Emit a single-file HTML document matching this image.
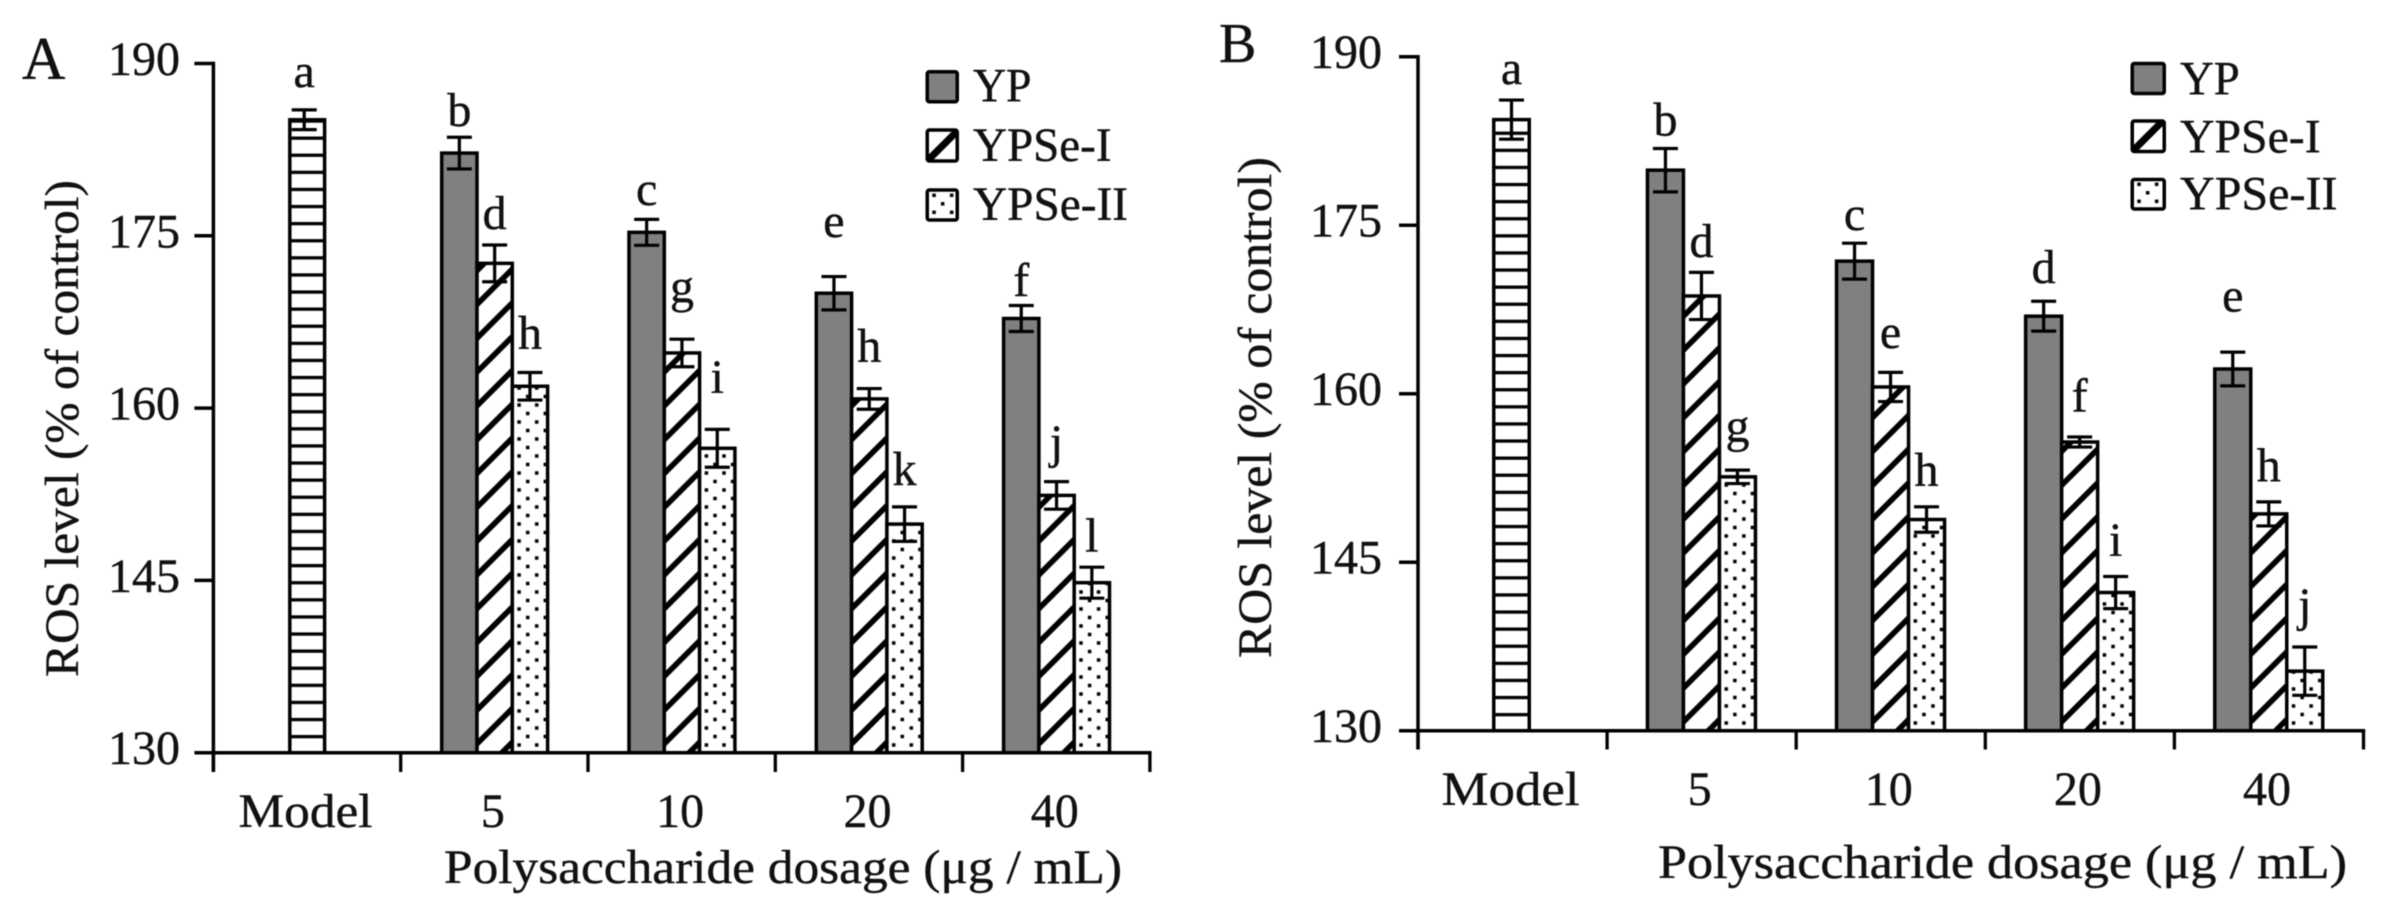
<!DOCTYPE html>
<html lang="en">
<head>
<meta charset="utf-8">
<title>ROS level by polysaccharide dosage</title>
<style>
  html, body { margin: 0; padding: 0; background: #fff; }
  svg { display: block; filter: blur(0.5px); }
  text { font-family: "Liberation Serif", serif; fill: #111; stroke: #111; stroke-width: 0.4px; font-size: 48px; }
</style>
</head>
<body>
<svg id="chart" xmlns="http://www.w3.org/2000/svg" width="2384" height="909" viewBox="0 0 2384 909">
  <defs>
    <pattern id="hatch-horizontal" patternUnits="userSpaceOnUse" width="17.1" height="17.1" patternTransform="translate(0,-3)">
      <rect x="0" y="0" width="17.1" height="17.1" fill="#fff"/>
      <rect x="0" y="2.4" width="17.1" height="3.3" fill="#000"/>
    </pattern>
    <pattern id="hatch-diagonal" patternUnits="userSpaceOnUse" width="33.8" height="33.8" patternTransform="translate(0,-8.9)">
      <rect x="0" y="0" width="33.8" height="33.8" fill="#fff"/>
      <path d="M-8.45,42.25 L42.25,-8.45 M-8.45,8.45 L8.45,-8.45 M25.35,42.25 L42.25,25.35" stroke="#000" stroke-width="5.6" fill="none"/>
    </pattern>
    <pattern id="hatch-diagonal-legend" patternUnits="userSpaceOnUse" width="40" height="40">
      <rect x="0" y="0" width="40" height="40" fill="#fff"/>
      <path d="M-10,50 L50,-10" stroke="#000" stroke-width="7" fill="none"/>
    </pattern>
    <pattern id="hatch-dots" patternUnits="userSpaceOnUse" width="17.6" height="17" patternTransform="translate(0,-3)">
      <rect x="0" y="0" width="17.6" height="17" fill="#fff"/>
      <rect x="5.05" y="10.55" width="3.5" height="3.5" fill="#000"/>
      <rect x="13.65" y="2.05" width="3.5" height="3.5" fill="#000"/>
    </pattern>
  </defs>
  <rect x="0" y="0" width="2384" height="909" fill="#fff"/>

  <g id="panel-a">
    <text x="22" y="79" style="font-size:60px">A</text>
    <text transform="translate(78,677) rotate(-90)" textLength="497" lengthAdjust="spacingAndGlyphs" style="font-size:48px">ROS level (% of control)</text>
    <text x="444" y="883" textLength="678" lengthAdjust="spacingAndGlyphs" style="font-size:48px">Polysaccharide dosage (μg / mL)</text>
    <g>
      <rect x="927.25" y="71.75" width="30" height="30" rx="2" fill="#808080" stroke="#000" stroke-width="3.5"/>
      <text x="973" y="101.5" textLength="58.5" lengthAdjust="spacingAndGlyphs">YP</text>
      <g transform="translate(927.25,161)">
        <rect x="0" y="-31" width="30" height="31" rx="2" fill="url(#hatch-diagonal-legend)" stroke="#000" stroke-width="3.5"/>
      </g>
      <text x="973" y="161" textLength="138.5" lengthAdjust="spacingAndGlyphs">YPSe-I</text>
      <g transform="translate(927.25,220)">
        <rect x="0" y="-30" width="30" height="30" rx="2" fill="url(#hatch-dots)" stroke="#000" stroke-width="3.5"/>
      </g>
      <text x="973" y="220" textLength="155" lengthAdjust="spacingAndGlyphs">YPSe-II</text>
    </g>
  </g>

  <g id="panel-b">
    <text x="1219" y="62" style="font-size:56px">B</text>
    <text transform="translate(1271,658) rotate(-90)" textLength="501" lengthAdjust="spacingAndGlyphs" style="font-size:48px">ROS level (% of control)</text>
    <text x="1658" y="878" textLength="689" lengthAdjust="spacingAndGlyphs" style="font-size:48px">Polysaccharide dosage (μg / mL)</text>
    <g>
      <rect x="2132.25" y="63.5" width="32" height="30" rx="2" fill="#808080" stroke="#000" stroke-width="3.5"/>
      <text x="2180" y="94.3" textLength="59.7" lengthAdjust="spacingAndGlyphs">YP</text>
      <g transform="translate(2132.25,151.5)">
        <rect x="0" y="-30.5" width="32" height="30.5" rx="2" fill="url(#hatch-diagonal-legend)" stroke="#000" stroke-width="3.5"/>
      </g>
      <text x="2180" y="152.3" textLength="140.6" lengthAdjust="spacingAndGlyphs">YPSe-I</text>
      <g transform="translate(2132.25,209)">
        <rect x="0" y="-29.5" width="32" height="29.5" rx="2" fill="url(#hatch-dots)" stroke="#000" stroke-width="3.5"/>
      </g>
      <text x="2180" y="209.3" textLength="157.5" lengthAdjust="spacingAndGlyphs">YPSe-II</text>
    </g>
  </g>
</svg>

<script>
// Shared axis data
const categories = ['Model', '5', '10', '20', '40'];
const yTickValues = [130, 145, 160, 175, 190];
const dosageGroups = ['5', '10', '20', '40'];

// Panel A values (% of control) for dosages 5, 10, 20, 40
const modelMeanA = [185.1];
const modelErrA = [0.86];
const modelLetterA = ['a'];
const modelLetterLevelA = [187.95];
const ypMeanA = [182.2, 175.3, 170.0, 167.8];
const ypErrA = [1.38, 1.13, 1.45, 1.13];
const ypLetterA = ['b', 'c', 'e', 'f'];
const ypLetterLevelA = [184.56, 177.7, 174.9, 169.75];
const ypse1MeanA = [172.6, 164.8, 160.8, 152.4];
const ypse1ErrA = [1.6, 1.2, 0.9, 1.2];
const ypse1LetterA = ['d', 'g', 'h', 'j'];
const ypse1LetterLevelA = [175.6, 169.2, 164.0, 155.65];
const ypse2MeanA = [161.9, 156.5, 149.9, 144.8];
const ypse2ErrA = [1.2, 1.65, 1.5, 1.35];
const ypse2LetterA = ['h', 'i', 'k', 'l'];
const ypse2LetterLevelA = [165.15, 161.3, 153.3, 147.5];

// Panel B values (% of control) for dosages 5, 10, 20, 40
const modelMeanB = [184.4];
const modelErrB = [1.74];
const modelLetterB = ['a'];
const modelLetterLevelB = [187.57];
const ypMeanB = [179.9, 171.8, 166.9, 162.2];
const ypErrB = [1.93, 1.6, 1.33, 1.5];
const ypLetterB = ['b', 'c', 'd', 'e'];
const ypLetterLevelB = [182.97, 174.57, 169.85, 167.3];
const ypse1MeanB = [168.7, 160.6, 155.7, 149.3];
const ypse1ErrB = [2.1, 1.3, 0.45, 1.07];
const ypse1LetterB = ['d', 'e', 'f', 'h'];
const ypse1LetterLevelB = [172.17, 164.07, 158.4, 152.17];
const ypse2MeanB = [152.6, 148.8, 142.3, 135.3];
const ypse2ErrB = [0.6, 1.13, 1.43, 2.15];
const ypse2LetterB = ['g', 'h', 'i', 'j'];
const ypse2LetterLevelB = [155.7, 151.78, 145.55, 139.77];

const SVG_NS = 'http://www.w3.org/2000/svg';

function svgEl(tag, parent, attrs) {
  const node = document.createElementNS(SVG_NS, tag);
  Object.keys(attrs).forEach(function (k) { node.setAttribute(k, attrs[k]); });
  parent.appendChild(node);
  return node;
}

function drawPanel(id, layout, model, series) {
  const root = document.getElementById(id);
  const yScale = function (v) { return layout.y130 - (v - 130) * layout.pxPerUnit; };
  const xTick = function (i) { return layout.x0 + layout.step * i; };
  const marks = svgEl('g', root, {});
  
  

  function drawBar(name, left, width, mean, err, fill, errShift, letter, level) {
    const top = yScale(mean);
    const base = layout.y130;
    const holder = svgEl('g', marks, { transform: 'translate(' + left + ',' + base + ')' });
    
    

    const bar = svgEl('rect', holder, { x: 0, y: top - base, width: width, height: base - top, fill: fill, stroke: '#000', 'stroke-width': 3.5 });
    
    

    const cx = left + width / 2 + errShift;
    const hi = yScale(mean + err);
    const lo = yScale(mean - err);
    const capPath = 'M' + (cx - layout.cap / 2) + ',' + hi + 'H' + (cx + layout.cap / 2) +
      'M' + (cx - layout.cap / 2) + ',' + lo + 'H' + (cx + layout.cap / 2) +
      'M' + cx + ',' + hi + 'V' + lo;
    const errorBar = svgEl('path', marks, { d: capPath, stroke: '#000', 'stroke-width': 3.2, fill: 'none' });
    
    

    const label = svgEl('text', marks, { x: cx, y: yScale(level), 'text-anchor': 'middle' });
    label.textContent = letter;
    
    
  }

  // Model bar
  drawBar(id + '-bar-model', layout.x0 + layout.modelOffset, layout.modelWidth, model.mean[0], model.err[0],
    'url(#hatch-horizontal)', layout.modelErrShift, model.letter[0], model.level[0]);

  // Dosage groups
  series.forEach(function (s, sIndex) {
    dosageGroups.forEach(function (group, g) {
      const left = xTick(g + 1) + layout.groupOffset + sIndex * layout.barPitch;
      drawBar(id + '-bar-' + s.key + '-' + group, left, layout.barPitch, s.mean[g], s.err[g], s.fill, 0, s.letter[g], s.level[g]);
    });
  });

  // Axes on top of bars
  const yAxis = svgEl('line', root, { x1: layout.x0, x2: layout.x0, y1: yScale(190) - 1.7, y2: layout.xTickEnd, stroke: '#000', 'stroke-width': 3.5 });
  
  

  const xAxis = svgEl('line', root, { x1: layout.x0, x2: xTick(categories.length) + 1.7, y1: layout.y130, y2: layout.y130, stroke: '#000', 'stroke-width': 3.5 });
  
  

  yTickValues.forEach(function (v) {
    const tick = svgEl('line', root, { x1: layout.x0 - layout.yTickLen, x2: layout.x0, y1: yScale(v), y2: yScale(v), stroke: '#000', 'stroke-width': 3.5 });
    
    

    const tickLabel = svgEl('text', root, { x: layout.yLabelRight, y: yScale(v) + 11.5, 'text-anchor': 'end' });
    tickLabel.textContent = String(v);
    
    
  });

  for (let i = 0; i <= categories.length; i++) {
    const xt = svgEl('line', root, { x1: xTick(i), x2: xTick(i), y1: layout.y130, y2: layout.xTickEnd, stroke: '#000', 'stroke-width': 3.3 });
    
    
  }

  categories.forEach(function (c, i) {
    const attrs = { x: xTick(i) + layout.step / 2 + layout.xLabelShift, y: layout.xLabelBase, 'text-anchor': 'middle' };
    if (c === 'Model') {
      attrs.textLength = layout.modelLabelWidth;
      attrs.lengthAdjust = 'spacingAndGlyphs';
    }
    const catLabel = svgEl('text', root, attrs);
    catLabel.textContent = c;
    
    
  });
}

drawPanel('panel-a',
  { x0: 213.4, step: 187.3, y130: 752.7, pxPerUnit: 11.487, xTickEnd: 772, yTickLen: 19, yLabelRight: 180,
    modelOffset: 76.4, modelWidth: 34.8, modelErrShift: -3, groupOffset: 41, barPitch: 35.3, cap: 25,
    xLabelBase: 827, xLabelShift: -1.5, modelLabelWidth: 134 },
  { mean: modelMeanA, err: modelErrA, letter: modelLetterA, level: modelLetterLevelA },
  [
    { key: 'yp', fill: '#808080', mean: ypMeanA, err: ypErrA, letter: ypLetterA, level: ypLetterLevelA },
    { key: 'ypse-i', fill: 'url(#hatch-diagonal)', mean: ypse1MeanA, err: ypse1ErrA, letter: ypse1LetterA, level: ypse1LetterLevelA },
    { key: 'ypse-ii', fill: 'url(#hatch-dots)', mean: ypse2MeanA, err: ypse2ErrA, letter: ypse2LetterA, level: ypse2LetterLevelA }
  ]);

drawPanel('panel-b',
  { x0: 1418, step: 189.1, y130: 730.7, pxPerUnit: 11.233, xTickEnd: 749.5, yTickLen: 19, yLabelRight: 1382,
    modelOffset: 75.75, modelWidth: 35.5, modelErrShift: 0, groupOffset: 40.35, barPitch: 36, cap: 25,
    xLabelBase: 805, xLabelShift: -2, modelLabelWidth: 138 },
  { mean: modelMeanB, err: modelErrB, letter: modelLetterB, level: modelLetterLevelB },
  [
    { key: 'yp', fill: '#808080', mean: ypMeanB, err: ypErrB, letter: ypLetterB, level: ypLetterLevelB },
    { key: 'ypse-i', fill: 'url(#hatch-diagonal)', mean: ypse1MeanB, err: ypse1ErrB, letter: ypse1LetterB, level: ypse1LetterLevelB },
    { key: 'ypse-ii', fill: 'url(#hatch-dots)', mean: ypse2MeanB, err: ypse2ErrB, letter: ypse2LetterB, level: ypse2LetterLevelB }
  ]);
</script>
</body>
</html>
